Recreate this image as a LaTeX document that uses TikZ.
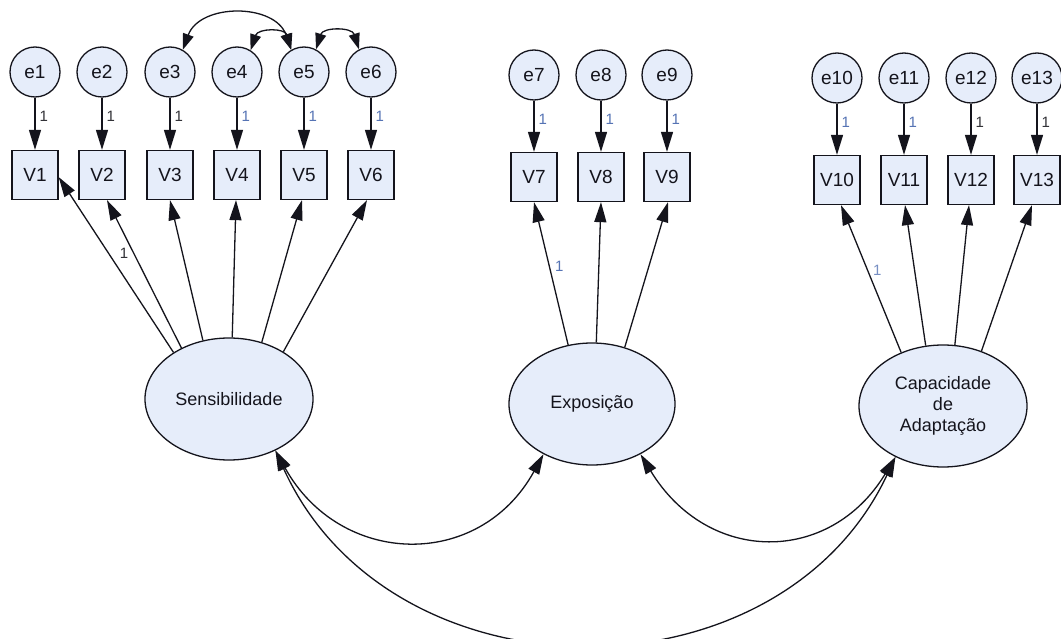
\documentclass[tikz,border=0pt]{standalone}
\usepackage{fontspec}
\setmainfont{Liberation Sans}
\usetikzlibrary{arrows.meta,shapes.geometric}

\definecolor{nodefill}{RGB}{230,237,250}
\definecolor{ink}{RGB}{20,20,28}
\definecolor{lbldark}{RGB}{50,50,55}
\definecolor{lblblue}{RGB}{85,115,180}

\begin{document}
\begin{tikzpicture}[x=1pt,y=-1pt,
  errvar/.style={circle,draw=ink,line width=1.3pt,fill=nodefill,minimum size=50pt,
    inner sep=0pt,text=ink,font=\fontsize{19}{22}\selectfont},
  obsvar/.style={rectangle,draw=ink,line width=1.3pt,fill=nodefill,minimum width=46pt,
    minimum height=49pt,inner sep=0pt,text=ink,font=\fontsize{19}{22}\selectfont},
  latvar/.style={ellipse,draw=ink,line width=1.3pt,fill=nodefill,minimum width=168pt,
    minimum height=122pt,inner sep=0pt,align=center,text=ink,
    font=\fontsize{18}{21}\selectfont},
  reg/.style={draw=ink,line width=1.3pt,-{Triangle[length=20pt,width=12pt]}},
  cov/.style={draw=ink,line width=1.3pt,
    {Triangle[length=20pt,width=12pt]}-{Triangle[length=20pt,width=12pt]}},
  covsmall/.style={draw=ink,line width=1.3pt,
    {Triangle[length=16pt,width=11pt]}-{Triangle[length=16pt,width=11pt]}},
  wt/.style={inner sep=0pt,font=\fontsize{15}{17}\selectfont},
]
\useasboundingbox (0,0) rectangle (1061,639);
\fill[white] (0,0) rectangle (1061,639);

% error terms
\foreach \n/\x in {1/35,2/102,3/170,4/237,5/304,6/371}
  \node[errvar] (e\n) at (\x,72) {e\n};
\foreach \n/\x in {7/534,8/601,9/667}
  \node[errvar] (e\n) at (\x,75) {e\n};
\foreach \n/\x in {10/837,11/904,12/971,13/1037}
  \node[errvar] (e\n) at (\x,78) {e\n};

% observed indicators
\foreach \n/\x in {1/35,2/102,3/170,4/237,5/304,6/371}
  \node[obsvar] (V\n) at (\x,175) {V\n};
\foreach \n/\x in {7/534,8/601,9/667}
  \node[obsvar] (V\n) at (\x,177) {V\n};
\foreach \n/\x in {10/837,11/904,12/971,13/1037}
  \node[obsvar] (V\n) at (\x,180) {V\n};

% latent factors
\node[latvar] (S) at (229,399) {Sensibilidade};
\node[latvar,minimum width=166pt] (E) at (592,404) {Exposição};
\node[latvar] (C) at (943,406) {Capacidade\\de\\Adaptação};

% error paths, fixed at 1
\foreach \n/\c in {1/lbldark,2/lbldark,3/lbldark,4/lblblue,5/lblblue,6/lblblue,
                   7/lblblue,8/lblblue,9/lblblue,10/lblblue,11/lblblue,12/lbldark,13/lbldark}
  \draw[reg] (e\n) -- node[wt,text=\c,pos=0.36,right=4pt] {1} (V\n);

% loadings: Sensibilidade
\draw[reg] (S.140) -- (V1.-5);
\draw[reg] (S.133) -- node[wt,text=lbldark,pos=0.64,left=5pt] {1} ([xshift=5pt]V2.south);
\draw[reg] (S.114) -- (V3.south);
\draw[reg] (S.87) -- ([xshift=-1pt]V4.south);
\draw[reg] (S.60) -- ([xshift=-2pt]V5.south);
\draw[reg] (S.41) -- ([xshift=-4pt]V6.south);

% loadings: Exposicao
\draw[reg] (E.112) -- node[wt,text=lblblue,pos=0.55,right=5pt] {1} (V7.south);
\draw[reg] (E.86) -- (V8.south);
\draw[reg] (E.60) -- ([xshift=1pt]V9.south);

% loadings: Capacidade de Adaptacao
\draw[reg] (C.128) -- node[wt,text=lblblue!80,pos=0.56,right=5pt] {1} ([xshift=4pt]V10.south);
\draw[reg] (C.106) -- ([xshift=1pt]V11.south);
\draw[reg] (C.79) -- ([xshift=-2pt]V12.south);
\draw[reg] (C.55) -- ([xshift=-5pt]V13.south);

% correlated errors
\draw[covsmall] (e3.60) .. controls (200,3) and (275,3) .. (e5.120);
\draw[covsmall] (e4.58) .. controls (258,28) and (285,28) .. (e5.120);
\draw[covsmall] (e5.62) .. controls (323,27) and (352,27) .. (e6.118);

% factor covariances
\draw[cov] (S.312) .. controls (340,567) and (479,571) .. (E.226);
\draw[cov] (E.314) .. controls (708,565) and (830,565) .. (C.227);
\draw[cov] (S.312) .. controls (391,705) and (779,705) .. (C.227);
\end{tikzpicture}
\end{document}
